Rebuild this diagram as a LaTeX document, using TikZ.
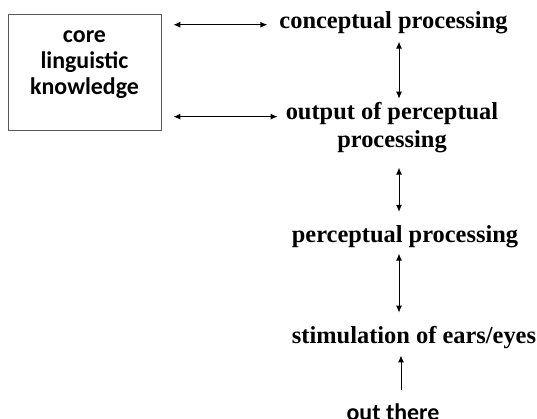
\documentclass[tikz,border=0pt]{standalone}
\usepackage{fontspec}
\setmainfont{Liberation Serif}
\newfontfamily\boxfont{Carlito}
\usetikzlibrary{positioning,calc,arrows.meta,fit}

\begin{document}
\begin{tikzpicture}[x=1bp, y=-1bp,
  lbl/.style={font=\fontsize{24.5}{28}\selectfont\bfseries, inner sep=0pt, anchor=base, align=center},
  sans/.style={font=\boxfont\fontsize{24}{26}\selectfont\bfseries, inner sep=0pt, anchor=base, align=center},
  link/.style={line width=1bp, {Latex[length=7bp,width=6bp]}-{Latex[length=7bp,width=6bp]}},
  uplink/.style={line width=1bp, -{Latex[length=7bp,width=6bp]}}]
  \useasboundingbox (0,0) rectangle (537,418);

  % left box
  \node[sans] (core) at (84.5,94) {core\\linguistic\\knowledge};
  \node[draw=gray!70!black, line width=0.8bp, inner sep=0pt, fit={(8,14) (161,130)}] (klg) {};

  % right column
  \node[lbl] (conc) at (393.5,28) {conceptual processing};
  \node[lbl] (outp) at (392,147) {output of perceptual\\processing};
  \node[lbl] (perc) at (405,242) {perceptual processing};
  \node[lbl] (stim) at (414,343) {stimulation of ears/eyes};
  \node[sans] (there) at (393,420) {out there};
  \coordinate (col) at (399,0);

  % horizontal links
  \draw[link, shorten <=12bp, shorten >=12bp] ([yshift=-2.5bp]klg.east |- conc.west) -- ([yshift=-2.5bp]conc.west);
  \draw[link, shorten <=12bp, shorten >=8bp] ([yshift=10.5bp]klg.east |- outp.west) -- ([yshift=10.5bp]outp.west);

  % vertical links
  \draw[link, shorten <=8bp, shorten >=3bp] (conc.south -| col) -- (outp.north -| col);
  \draw[link, shorten <=15bp, shorten >=13bp] (outp.south -| col) -- (perc.north -| col);
  \draw[link, shorten <=6bp, shorten >=13bp] (perc.south -| col) -- (stim.north -| col);
  \draw[uplink, shorten <=13bp, shorten >=7bp] ([xshift=2bp]there.north -| col) -- ([xshift=2bp]stim.south -| col);
\end{tikzpicture}
\end{document}
